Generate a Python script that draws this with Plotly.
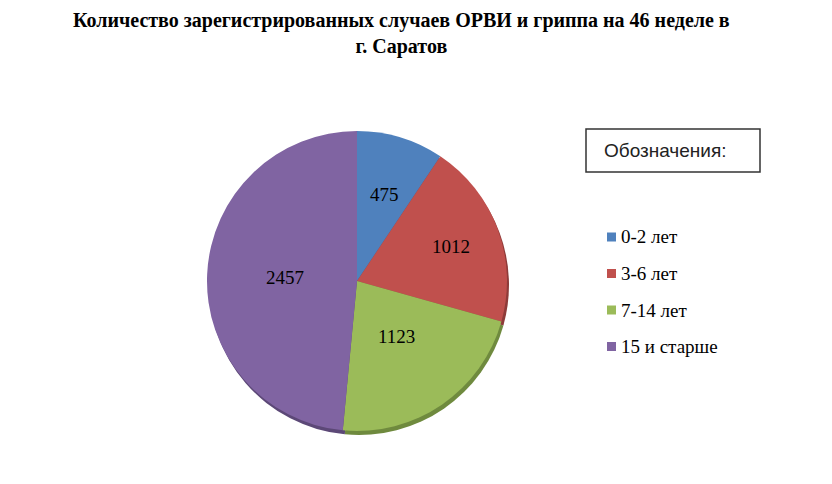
import plotly.graph_objects as go
import math

categories = ["0-2 лет", "3-6 лет", "7-14 лет", "15 и старше"]
values = [475, 1012, 1123, 2457]
colors = ["#4F81BD", "#C0504D", "#9BBB59", "#8064A2"]
shadow_colors = ["#3A5F8C", "#8E3B39", "#6F8A3E", "#5C4877"]
title_text = "Количество зарегистрированных случаев ОРВИ и гриппа на 46 неделе в<br>г. Саратов"
legend_title = "Обозначения:"

W, H = 832, 484
OFF = 8  # page body margin offset of the rendered figure
cx, cy, R = 349, 273, 150
SERIF = "Times New Roman"

def px(x):
    return (x - OFF) / W

def py(y):
    return 1 - (y - OFF) / H

def dom(cx, cy, r):
    return dict(x=[(cx - r) / W, (cx + r) / W], y=[1 - (cy + r) / H, 1 - (cy - r) / H])

fig = go.Figure()
# shadow / 3D edge
fig.add_trace(go.Pie(
    labels=categories, values=values, sort=False, direction="clockwise", rotation=0,
    marker=dict(colors=shadow_colors, line=dict(width=0)),
    textinfo="none", hoverinfo="skip", showlegend=False,
    domain=dom(cx + 2, cy + 4, R),
))
fig.add_trace(go.Pie(
    labels=categories, values=values, sort=False, direction="clockwise", rotation=0,
    marker=dict(colors=colors, line=dict(width=0)),
    textinfo="none", showlegend=False,
    domain=dom(cx, cy, R),
))

annotations = [dict(
    text="<b>" + title_text + "</b>", x=px(401), y=1, xref="paper", yref="paper",
    xanchor="center", yanchor="top", showarrow=False, align="center", borderpad=0,
    font=dict(family=SERIF, size=20, color="black"),
)]

# data labels placed along slice bisectors (centre of the rendered pie)
pcx, pcy, pR = 358, 281, 150
label_frac = [0.60, 0.66, 0.45, 0.49]
total = sum(values)
cum = 0
for v, f in zip(values, label_frac):
    mid = (cum + v / 2) / total
    cum += v
    a = 2 * math.pi * mid
    lx = pcx + math.sin(a) * pR * f
    ly = pcy - math.cos(a) * pR * f
    annotations.append(dict(
        text=str(v), x=px(lx), y=py(ly), xref="paper", yref="paper",
        xanchor="center", yanchor="middle", showarrow=False,
        font=dict(family=SERIF, size=19, color="black"),
    ))

annotations.append(dict(
    text=legend_title, x=px(665), y=py(151), xref="paper", yref="paper",
    xanchor="center", yanchor="middle", showarrow=False,
    font=dict(family="Arial", size=19, color="#222222"),
))
shapes = [dict(type="rect", xref="paper", yref="paper",
               x0=px(586), x1=px(760), y0=py(172), y1=py(129),
               line=dict(color="#333333", width=1.5), fillcolor="white")]
for i, (c, col) in enumerate(zip(categories, colors)):
    yy = 237 + i * 36.5
    shapes.append(dict(type="rect", xref="paper", yref="paper",
                       x0=px(607), x1=px(616), y0=py(yy + 4.5), y1=py(yy - 4.5),
                       line=dict(width=0), fillcolor=col))
    annotations.append(dict(
        text=c, x=px(619), y=py(yy), xref="paper", yref="paper",
        xanchor="left", yanchor="middle", showarrow=False,
        font=dict(family=SERIF, size=19, color="black"),
    ))

fig.update_layout(
    width=W, height=H, margin=dict(l=0, r=0, t=0, b=0),
    paper_bgcolor="white", plot_bgcolor="white",
    annotations=annotations, shapes=shapes,
)
fig.write_html("out.html")
